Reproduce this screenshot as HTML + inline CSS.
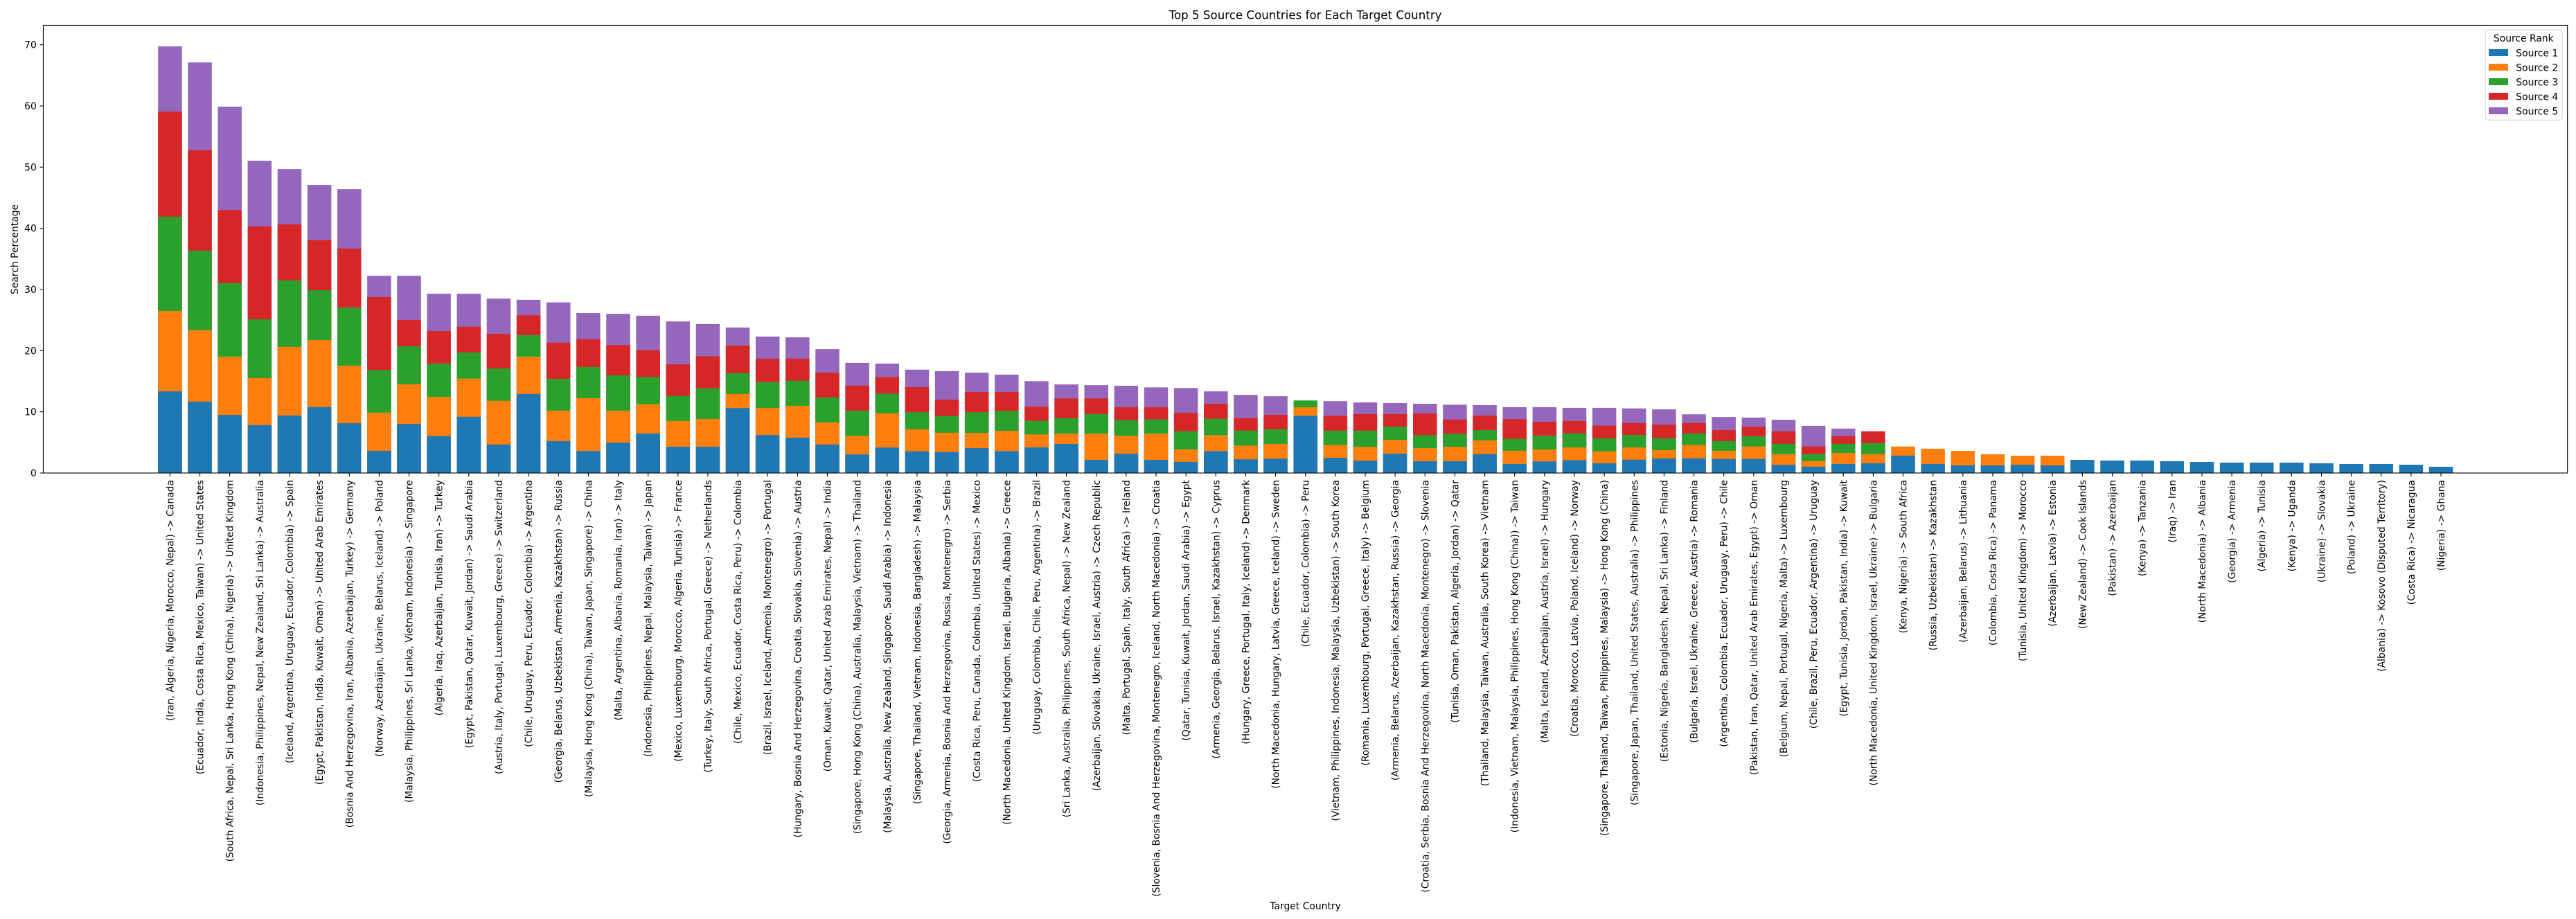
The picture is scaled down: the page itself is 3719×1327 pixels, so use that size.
<!DOCTYPE html>
<html><head><meta charset="utf-8"><style>
html,body{margin:0;padding:0;background:#fff;}
svg{display:block;}
text{font-family:"DejaVu Sans","Liberation Sans",sans-serif;fill:#000;}
</style></head><body>
<svg width="3719" height="1327" viewBox="0 0 3719 1327" xmlns="http://www.w3.org/2000/svg">
<rect width="3719" height="1327" fill="#fff"/>
<text x="1884.6" y="27.5" font-size="16.67" text-anchor="middle">Top 5 Source Countries for Each Target Country</text>
<g transform="translate(245.41,683) scale(43.14,-8.833)">
<path fill="#9467bd" d="M-.4 0h.8v69.75h-.8zM.6 0h.8v67.12h-.8zM1.6 0h.8v59.89h-.8zM2.6 0h.8v51.05h-.8zM3.6 0h.8v49.68h-.8zM4.6 0h.8v47.1h-.8zM5.6 0h.8v46.4h-.8zM6.6 0h.8v32.24h-.8zM7.6 0h.8v32.24h-.8zM8.6 0h.8v29.31h-.8zM9.6 0h.8v29.31h-.8zM10.6 0h.8v28.51h-.8zM11.6 0h.8v28.32h-.8zM12.6 0h.8v27.89h-.8zM13.6 0h.8v26.15h-.8zM14.6 0h.8v26.02h-.8zM15.6 0h.8v25.71h-.8zM16.6 0h.8v24.78h-.8zM17.6 0h.8v24.35h-.8zM18.6 0h.8v23.79h-.8zM19.6 0h.8v22.3h-.8zM20.6 0h.8v22.17h-.8zM21.6 0h.8v20.25h-.8zM22.6 0h.8v18.01h-.8zM23.6 0h.8v17.89h-.8zM24.6 0h.8v16.89h-.8zM25.6 0h.8v16.65h-.8zM26.6 0h.8v16.4h-.8zM27.6 0h.8v16.08h-.8zM28.6 0h.8v15.01h-.8zM29.6 0h.8v14.48h-.8zM30.6 0h.8v14.37h-.8zM31.6 0h.8v14.26h-.8zM32.6 0h.8v14h-.8zM33.6 0h.8v13.89h-.8zM34.6 0h.8v13.35h-.8zM35.6 0h.8v12.77h-.8zM36.6 0h.8v12.55h-.8zM38.6 0h.8v11.75h-.8zM39.6 0h.8v11.54h-.8zM40.6 0h.8v11.43h-.8zM41.6 0h.8v11.32h-.8zM42.6 0h.8v11.16h-.8zM43.6 0h.8v11.09h-.8zM44.6 0h.8v10.75h-.8zM45.6 0h.8v10.75h-.8zM46.6 0h.8v10.65h-.8zM47.6 0h.8v10.65h-.8zM48.6 0h.8v10.55h-.8zM49.6 0h.8v10.4h-.8zM50.6 0h.8v9.6h-.8zM51.6 0h.8v9.15h-.8zM52.6 0h.8v9.05h-.8zM53.6 0h.8v8.71h-.8zM54.6 0h.8v7.71h-.8zM55.6 0h.8v7.26h-.8z"/>
<path fill="#d62728" d="M-.4 0h.8v59.08h-.8zM.6 0h.8v52.76h-.8zM1.6 0h.8v43.01h-.8zM2.6 0h.8v40.33h-.8zM3.6 0h.8v40.63h-.8zM4.6 0h.8v38.06h-.8zM5.6 0h.8v36.69h-.8zM6.6 0h.8v28.76h-.8zM7.6 0h.8v25.02h-.8zM8.6 0h.8v23.2h-.8zM9.6 0h.8v23.91h-.8zM10.6 0h.8v22.73h-.8zM11.6 0h.8v25.78h-.8zM12.6 0h.8v21.3h-.8zM13.6 0h.8v21.86h-.8zM14.6 0h.8v20.93h-.8zM15.6 0h.8v20.06h-.8zM16.6 0h.8v17.76h-.8zM17.6 0h.8v19.07h-.8zM18.6 0h.8v20.81h-.8zM19.6 0h.8v18.7h-.8zM20.6 0h.8v18.7h-.8zM21.6 0h.8v16.4h-.8zM22.6 0h.8v14.29h-.8zM23.6 0h.8v15.71h-.8zM24.6 0h.8v14.04h-.8zM25.6 0h.8v11.99h-.8zM26.6 0h.8v13.25h-.8zM27.6 0h.8v13.25h-.8zM28.6 0h.8v10.84h-.8zM29.6 0h.8v12.18h-.8zM30.6 0h.8v12.18h-.8zM31.6 0h.8v10.74h-.8zM32.6 0h.8v10.74h-.8zM33.6 0h.8v9.83h-.8zM34.6 0h.8v11.32h-.8zM35.6 0h.8v8.97h-.8zM36.6 0h.8v9.51h-.8zM38.6 0h.8v9.35h-.8zM39.6 0h.8v9.62h-.8zM40.6 0h.8v9.62h-.8zM41.6 0h.8v9.72h-.8zM42.6 0h.8v8.76h-.8zM43.6 0h.8v9.4h-.8zM44.6 0h.8v8.81h-.8zM45.6 0h.8v8.36h-.8zM46.6 0h.8v8.51h-.8zM47.6 0h.8v7.76h-.8zM48.6 0h.8v8.16h-.8zM49.6 0h.8v7.91h-.8zM50.6 0h.8v8.16h-.8zM51.6 0h.8v7.01h-.8zM52.6 0h.8v7.56h-.8zM53.6 0h.8v6.82h-.8zM54.6 0h.8v4.33h-.8zM55.6 0h.8v6.02h-.8zM56.6 0h.8v6.82h-.8z"/>
<path fill="#2ca02c" d="M-.4 0h.8v41.9h-.8zM.6 0h.8v36.34h-.8zM1.6 0h.8v31.03h-.8zM2.6 0h.8v25.12h-.8zM3.6 0h.8v31.49h-.8zM4.6 0h.8v29.87h-.8zM5.6 0h.8v27.04h-.8zM6.6 0h.8v16.83h-.8zM7.6 0h.8v20.72h-.8zM8.6 0h.8v17.89h-.8zM9.6 0h.8v19.71h-.8zM10.6 0h.8v17.08h-.8zM11.6 0h.8v22.55h-.8zM12.6 0h.8v15.4h-.8zM13.6 0h.8v17.33h-.8zM14.6 0h.8v15.96h-.8zM15.6 0h.8v15.71h-.8zM16.6 0h.8v12.61h-.8zM17.6 0h.8v13.85h-.8zM18.6 0h.8v16.34h-.8zM19.6 0h.8v14.84h-.8zM20.6 0h.8v15.09h-.8zM21.6 0h.8v12.36h-.8zM22.6 0h.8v10.19h-.8zM23.6 0h.8v12.98h-.8zM24.6 0h.8v9.94h-.8zM25.6 0h.8v9.32h-.8zM26.6 0h.8v9.94h-.8zM27.6 0h.8v10.15h-.8zM28.6 0h.8v8.55h-.8zM29.6 0h.8v8.97h-.8zM30.6 0h.8v9.62h-.8zM31.6 0h.8v8.65h-.8zM32.6 0h.8v8.76h-.8zM33.6 0h.8v6.84h-.8zM34.6 0h.8v8.87h-.8zM35.6 0h.8v6.94h-.8zM36.6 0h.8v7.16h-.8zM37.6 0h.8v11.86h-.8zM38.6 0h.8v6.94h-.8zM39.6 0h.8v6.94h-.8zM40.6 0h.8v7.59h-.8zM41.6 0h.8v6.2h-.8zM42.6 0h.8v6.41h-.8zM43.6 0h.8v7.01h-.8zM44.6 0h.8v5.57h-.8zM45.6 0h.8v6.12h-.8zM46.6 0h.8v6.47h-.8zM47.6 0h.8v5.67h-.8zM48.6 0h.8v6.22h-.8zM49.6 0h.8v5.67h-.8zM50.6 0h.8v6.47h-.8zM51.6 0h.8v5.22h-.8zM52.6 0h.8v6.02h-.8zM53.6 0h.8v4.78h-.8zM54.6 0h.8v3.08h-.8zM55.6 0h.8v4.78h-.8zM56.6 0h.8v4.88h-.8z"/>
<path fill="#ff7f0e" d="M-.4 0h.8v26.48h-.8zM.6 0h.8v23.35h-.8zM1.6 0h.8v19h-.8zM2.6 0h.8v15.52h-.8zM3.6 0h.8v20.62h-.8zM4.6 0h.8v21.73h-.8zM5.6 0h.8v17.54h-.8zM6.6 0h.8v9.86h-.8zM7.6 0h.8v14.51h-.8zM8.6 0h.8v12.43h-.8zM9.6 0h.8v15.42h-.8zM10.6 0h.8v11.8h-.8zM11.6 0h.8v19.01h-.8zM12.6 0h.8v10.19h-.8zM13.6 0h.8v12.24h-.8zM14.6 0h.8v10.19h-.8zM15.6 0h.8v11.24h-.8zM16.6 0h.8v8.51h-.8zM17.6 0h.8v8.82h-.8zM18.6 0h.8v12.92h-.8zM19.6 0h.8v10.62h-.8zM20.6 0h.8v10.99h-.8zM21.6 0h.8v8.26h-.8zM22.6 0h.8v6.09h-.8zM23.6 0h.8v9.75h-.8zM24.6 0h.8v7.14h-.8zM25.6 0h.8v6.58h-.8zM26.6 0h.8v6.57h-.8zM27.6 0h.8v6.89h-.8zM28.6 0h.8v6.3h-.8zM29.6 0h.8v6.41h-.8zM30.6 0h.8v6.41h-.8zM31.6 0h.8v6.09h-.8zM32.6 0h.8v6.41h-.8zM33.6 0h.8v3.85h-.8zM34.6 0h.8v6.2h-.8zM35.6 0h.8v4.49h-.8zM36.6 0h.8v4.75h-.8zM37.6 0h.8v10.74h-.8zM38.6 0h.8v4.59h-.8zM39.6 0h.8v4.27h-.8zM40.6 0h.8v5.4h-.8zM41.6 0h.8v4.06h-.8zM42.6 0h.8v4.27h-.8zM43.6 0h.8v5.32h-.8zM44.6 0h.8v3.63h-.8zM45.6 0h.8v3.83h-.8zM46.6 0h.8v4.18h-.8zM47.6 0h.8v3.53h-.8zM48.6 0h.8v4.18h-.8zM49.6 0h.8v3.73h-.8zM50.6 0h.8v4.58h-.8zM51.6 0h.8v3.63h-.8zM52.6 0h.8v4.33h-.8zM53.6 0h.8v3.08h-.8zM54.6 0h.8v1.94h-.8zM55.6 0h.8v3.28h-.8zM56.6 0h.8v3.08h-.8zM57.6 0h.8v4.33h-.8zM58.6 0h.8v3.98h-.8zM59.6 0h.8v3.62h-.8zM60.6 0h.8v3.06h-.8zM61.6 0h.8v2.83h-.8zM62.6 0h.8v2.83h-.8z"/>
<path fill="#1f77b4" d="M-.4 0h.8v13.34h-.8zM.6 0h.8v11.67h-.8zM1.6 0h.8v9.5h-.8zM2.6 0h.8v7.83h-.8zM3.6 0h.8v9.4h-.8zM4.6 0h.8v10.77h-.8zM5.6 0h.8v8.14h-.8zM6.6 0h.8v3.64h-.8zM7.6 0h.8v8.04h-.8zM8.6 0h.8v6.01h-.8zM9.6 0h.8v9.2h-.8zM10.6 0h.8v4.66h-.8zM11.6 0h.8v12.92h-.8zM12.6 0h.8v5.22h-.8zM13.6 0h.8v3.6h-.8zM14.6 0h.8v4.97h-.8zM15.6 0h.8v6.46h-.8zM16.6 0h.8v4.29h-.8zM17.6 0h.8v4.29h-.8zM18.6 0h.8v10.62h-.8zM19.6 0h.8v6.21h-.8zM20.6 0h.8v5.78h-.8zM21.6 0h.8v4.66h-.8zM22.6 0h.8v3.04h-.8zM23.6 0h.8v4.16h-.8zM24.6 0h.8v3.54h-.8zM25.6 0h.8v3.42h-.8zM26.6 0h.8v4.06h-.8zM27.6 0h.8v3.58h-.8zM28.6 0h.8v4.17h-.8zM29.6 0h.8v4.75h-.8zM30.6 0h.8v2.14h-.8zM31.6 0h.8v3.15h-.8zM32.6 0h.8v2.14h-.8zM33.6 0h.8v1.82h-.8zM34.6 0h.8v3.58h-.8zM35.6 0h.8v2.24h-.8zM36.6 0h.8v2.35h-.8zM37.6 0h.8v9.35h-.8zM38.6 0h.8v2.46h-.8zM39.6 0h.8v2.03h-.8zM40.6 0h.8v3.15h-.8zM41.6 0h.8v1.92h-.8zM42.6 0h.8v1.92h-.8zM43.6 0h.8v3.08h-.8zM44.6 0h.8v1.49h-.8zM45.6 0h.8v1.89h-.8zM46.6 0h.8v2.09h-.8zM47.6 0h.8v1.59h-.8zM48.6 0h.8v2.19h-.8zM49.6 0h.8v2.39h-.8zM50.6 0h.8v2.39h-.8zM51.6 0h.8v2.29h-.8zM52.6 0h.8v2.29h-.8zM53.6 0h.8v1.34h-.8zM54.6 0h.8v1.04h-.8zM55.6 0h.8v1.49h-.8zM56.6 0h.8v1.59h-.8zM57.6 0h.8v2.84h-.8zM58.6 0h.8v1.49h-.8zM59.6 0h.8v1.25h-.8zM60.6 0h.8v1.25h-.8zM61.6 0h.8v1.36h-.8zM62.6 0h.8v1.25h-.8zM63.6 0h.8v2.15h-.8zM64.6 0h.8v2.04h-.8zM65.6 0h.8v2.04h-.8zM66.6 0h.8v1.92h-.8zM67.6 0h.8v1.81h-.8zM68.6 0h.8v1.7h-.8zM69.6 0h.8v1.7h-.8zM70.6 0h.8v1.7h-.8zM71.6 0h.8v1.58h-.8zM72.6 0h.8v1.47h-.8zM73.6 0h.8v1.47h-.8zM74.6 0h.8v1.36h-.8zM75.6 0h.8v1.02h-.8z"/>
<path stroke="#000" stroke-width="1.11" vector-effect="non-scaling-stroke" fill="none" d="M0 0v-.555M1 0v-.555M2 0v-.555M3 0v-.555M4 0v-.555M5 0v-.555M6 0v-.555M7 0v-.555M8 0v-.555M9 0v-.555M10 0v-.555M11 0v-.555M12 0v-.555M13 0v-.555M14 0v-.555M15 0v-.555M16 0v-.555M17 0v-.555M18 0v-.555M19 0v-.555M20 0v-.555M21 0v-.555M22 0v-.555M23 0v-.555M24 0v-.555M25 0v-.555M26 0v-.555M27 0v-.555M28 0v-.555M29 0v-.555M30 0v-.555M31 0v-.555M32 0v-.555M33 0v-.555M34 0v-.555M35 0v-.555M36 0v-.555M37 0v-.555M38 0v-.555M39 0v-.555M40 0v-.555M41 0v-.555M42 0v-.555M43 0v-.555M44 0v-.555M45 0v-.555M46 0v-.555M47 0v-.555M48 0v-.555M49 0v-.555M50 0v-.555M51 0v-.555M52 0v-.555M53 0v-.555M54 0v-.555M55 0v-.555M56 0v-.555M57 0v-.555M58 0v-.555M59 0v-.555M60 0v-.555M61 0v-.555M62 0v-.555M63 0v-.555M64 0v-.555M65 0v-.555M66 0v-.555M67 0v-.555M68 0v-.555M69 0v-.555M70 0v-.555M71 0v-.555M72 0v-.555M73 0v-.555M74 0v-.555M75 0v-.555M76 0v-.555"/>
</g>
<rect x="62.5" y="36.5" width="3644.2" height="646.5" fill="none" stroke="#000" stroke-width="1.11"/>
<path stroke="#000" stroke-width="1.11" d="M57.6 683h4.9M57.6 594.67h4.9M57.6 506.34h4.9M57.6 418h4.9M57.6 329.68h4.9M57.6 241.35h4.9M57.6 153.02h4.9M57.6 64.69h4.9"/>
<g font-size="13.89" text-anchor="end">
<text x="52.8" y="683" dy="0.36em">0</text>
<text x="52.8" y="594.67" dy="0.36em">10</text>
<text x="52.8" y="506.34" dy="0.36em">20</text>
<text x="52.8" y="418" dy="0.36em">30</text>
<text x="52.8" y="329.68" dy="0.36em">40</text>
<text x="52.8" y="241.35" dy="0.36em">50</text>
<text x="52.8" y="153.02" dy="0.36em">60</text>
<text x="52.8" y="64.69" dy="0.36em">70</text>
</g>
<text transform="translate(21,360) rotate(-90)" font-size="13.89" text-anchor="middle" dy="0.36em">Search Percentage</text>
<text x="1884.6" y="1313" font-size="13.89" text-anchor="middle">Target Country</text>
<g font-size="13.89" text-anchor="end">
<text transform="translate(245.41,693) rotate(-90)" dy="0.36em">(Iran, Algeria, Nigeria, Morocco, Nepal) -&gt; Canada</text>
<text transform="translate(288.55,693) rotate(-90)" dy="0.36em">(Ecuador, India, Costa Rica, Mexico, Taiwan) -&gt; United States</text>
<text transform="translate(331.69,693) rotate(-90)" dy="0.36em">(South Africa, Nepal, Sri Lanka, Hong Kong (China), Nigeria) -&gt; United Kingdom</text>
<text transform="translate(374.83,693) rotate(-90)" dy="0.36em">(Indonesia, Philippines, Nepal, New Zealand, Sri Lanka) -&gt; Australia</text>
<text transform="translate(417.97,693) rotate(-90)" dy="0.36em">(Iceland, Argentina, Uruguay, Ecuador, Colombia) -&gt; Spain</text>
<text transform="translate(461.11,693) rotate(-90)" dy="0.36em">(Egypt, Pakistan, India, Kuwait, Oman) -&gt; United Arab Emirates</text>
<text transform="translate(504.25,693) rotate(-90)" dy="0.36em">(Bosnia And Herzegovina, Iran, Albania, Azerbaijan, Turkey) -&gt; Germany</text>
<text transform="translate(547.39,693) rotate(-90)" dy="0.36em">(Norway, Azerbaijan, Ukraine, Belarus, Iceland) -&gt; Poland</text>
<text transform="translate(590.53,693) rotate(-90)" dy="0.36em">(Malaysia, Philippines, Sri Lanka, Vietnam, Indonesia) -&gt; Singapore</text>
<text transform="translate(633.67,693) rotate(-90)" dy="0.36em">(Algeria, Iraq, Azerbaijan, Tunisia, Iran) -&gt; Turkey</text>
<text transform="translate(676.81,693) rotate(-90)" dy="0.36em">(Egypt, Pakistan, Qatar, Kuwait, Jordan) -&gt; Saudi Arabia</text>
<text transform="translate(719.95,693) rotate(-90)" dy="0.36em">(Austria, Italy, Portugal, Luxembourg, Greece) -&gt; Switzerland</text>
<text transform="translate(763.09,693) rotate(-90)" dy="0.36em">(Chile, Uruguay, Peru, Ecuador, Colombia) -&gt; Argentina</text>
<text transform="translate(806.23,693) rotate(-90)" dy="0.36em">(Georgia, Belarus, Uzbekistan, Armenia, Kazakhstan) -&gt; Russia</text>
<text transform="translate(849.37,693) rotate(-90)" dy="0.36em">(Malaysia, Hong Kong (China), Taiwan, Japan, Singapore) -&gt; China</text>
<text transform="translate(892.51,693) rotate(-90)" dy="0.36em">(Malta, Argentina, Albania, Romania, Iran) -&gt; Italy</text>
<text transform="translate(935.65,693) rotate(-90)" dy="0.36em">(Indonesia, Philippines, Nepal, Malaysia, Taiwan) -&gt; Japan</text>
<text transform="translate(978.79,693) rotate(-90)" dy="0.36em">(Mexico, Luxembourg, Morocco, Algeria, Tunisia) -&gt; France</text>
<text transform="translate(1021.93,693) rotate(-90)" dy="0.36em">(Turkey, Italy, South Africa, Portugal, Greece) -&gt; Netherlands</text>
<text transform="translate(1065.07,693) rotate(-90)" dy="0.36em">(Chile, Mexico, Ecuador, Costa Rica, Peru) -&gt; Colombia</text>
<text transform="translate(1108.21,693) rotate(-90)" dy="0.36em">(Brazil, Israel, Iceland, Armenia, Montenegro) -&gt; Portugal</text>
<text transform="translate(1151.35,693) rotate(-90)" dy="0.36em">(Hungary, Bosnia And Herzegovina, Croatia, Slovakia, Slovenia) -&gt; Austria</text>
<text transform="translate(1194.49,693) rotate(-90)" dy="0.36em">(Oman, Kuwait, Qatar, United Arab Emirates, Nepal) -&gt; India</text>
<text transform="translate(1237.63,693) rotate(-90)" dy="0.36em">(Singapore, Hong Kong (China), Australia, Malaysia, Vietnam) -&gt; Thailand</text>
<text transform="translate(1280.77,693) rotate(-90)" dy="0.36em">(Malaysia, Australia, New Zealand, Singapore, Saudi Arabia) -&gt; Indonesia</text>
<text transform="translate(1323.91,693) rotate(-90)" dy="0.36em">(Singapore, Thailand, Vietnam, Indonesia, Bangladesh) -&gt; Malaysia</text>
<text transform="translate(1367.05,693) rotate(-90)" dy="0.36em">(Georgia, Armenia, Bosnia And Herzegovina, Russia, Montenegro) -&gt; Serbia</text>
<text transform="translate(1410.19,693) rotate(-90)" dy="0.36em">(Costa Rica, Peru, Canada, Colombia, United States) -&gt; Mexico</text>
<text transform="translate(1453.33,693) rotate(-90)" dy="0.36em">(North Macedonia, United Kingdom, Israel, Bulgaria, Albania) -&gt; Greece</text>
<text transform="translate(1496.47,693) rotate(-90)" dy="0.36em">(Uruguay, Colombia, Chile, Peru, Argentina) -&gt; Brazil</text>
<text transform="translate(1539.61,693) rotate(-90)" dy="0.36em">(Sri Lanka, Australia, Philippines, South Africa, Nepal) -&gt; New Zealand</text>
<text transform="translate(1582.75,693) rotate(-90)" dy="0.36em">(Azerbaijan, Slovakia, Ukraine, Israel, Austria) -&gt; Czech Republic</text>
<text transform="translate(1625.89,693) rotate(-90)" dy="0.36em">(Malta, Portugal, Spain, Italy, South Africa) -&gt; Ireland</text>
<text transform="translate(1669.03,693) rotate(-90)" dy="0.36em">(Slovenia, Bosnia And Herzegovina, Montenegro, Iceland, North Macedonia) -&gt; Croatia</text>
<text transform="translate(1712.17,693) rotate(-90)" dy="0.36em">(Qatar, Tunisia, Kuwait, Jordan, Saudi Arabia) -&gt; Egypt</text>
<text transform="translate(1755.31,693) rotate(-90)" dy="0.36em">(Armenia, Georgia, Belarus, Israel, Kazakhstan) -&gt; Cyprus</text>
<text transform="translate(1798.45,693) rotate(-90)" dy="0.36em">(Hungary, Greece, Portugal, Italy, Iceland) -&gt; Denmark</text>
<text transform="translate(1841.59,693) rotate(-90)" dy="0.36em">(North Macedonia, Hungary, Latvia, Greece, Iceland) -&gt; Sweden</text>
<text transform="translate(1884.73,693) rotate(-90)" dy="0.36em">(Chile, Ecuador, Colombia) -&gt; Peru</text>
<text transform="translate(1927.87,693) rotate(-90)" dy="0.36em">(Vietnam, Philippines, Indonesia, Malaysia, Uzbekistan) -&gt; South Korea</text>
<text transform="translate(1971.01,693) rotate(-90)" dy="0.36em">(Romania, Luxembourg, Portugal, Greece, Italy) -&gt; Belgium</text>
<text transform="translate(2014.15,693) rotate(-90)" dy="0.36em">(Armenia, Belarus, Azerbaijan, Kazakhstan, Russia) -&gt; Georgia</text>
<text transform="translate(2057.29,693) rotate(-90)" dy="0.36em">(Croatia, Serbia, Bosnia And Herzegovina, North Macedonia, Montenegro) -&gt; Slovenia</text>
<text transform="translate(2100.43,693) rotate(-90)" dy="0.36em">(Tunisia, Oman, Pakistan, Algeria, Jordan) -&gt; Qatar</text>
<text transform="translate(2143.57,693) rotate(-90)" dy="0.36em">(Thailand, Malaysia, Taiwan, Australia, South Korea) -&gt; Vietnam</text>
<text transform="translate(2186.71,693) rotate(-90)" dy="0.36em">(Indonesia, Vietnam, Malaysia, Philippines, Hong Kong (China)) -&gt; Taiwan</text>
<text transform="translate(2229.85,693) rotate(-90)" dy="0.36em">(Malta, Iceland, Azerbaijan, Austria, Israel) -&gt; Hungary</text>
<text transform="translate(2272.99,693) rotate(-90)" dy="0.36em">(Croatia, Morocco, Latvia, Poland, Iceland) -&gt; Norway</text>
<text transform="translate(2316.13,693) rotate(-90)" dy="0.36em">(Singapore, Thailand, Taiwan, Philippines, Malaysia) -&gt; Hong Kong (China)</text>
<text transform="translate(2359.27,693) rotate(-90)" dy="0.36em">(Singapore, Japan, Thailand, United States, Australia) -&gt; Philippines</text>
<text transform="translate(2402.41,693) rotate(-90)" dy="0.36em">(Estonia, Nigeria, Bangladesh, Nepal, Sri Lanka) -&gt; Finland</text>
<text transform="translate(2445.55,693) rotate(-90)" dy="0.36em">(Bulgaria, Israel, Ukraine, Greece, Austria) -&gt; Romania</text>
<text transform="translate(2488.69,693) rotate(-90)" dy="0.36em">(Argentina, Colombia, Ecuador, Uruguay, Peru) -&gt; Chile</text>
<text transform="translate(2531.83,693) rotate(-90)" dy="0.36em">(Pakistan, Iran, Qatar, United Arab Emirates, Egypt) -&gt; Oman</text>
<text transform="translate(2574.97,693) rotate(-90)" dy="0.36em">(Belgium, Nepal, Portugal, Nigeria, Malta) -&gt; Luxembourg</text>
<text transform="translate(2618.11,693) rotate(-90)" dy="0.36em">(Chile, Brazil, Peru, Ecuador, Argentina) -&gt; Uruguay</text>
<text transform="translate(2661.25,693) rotate(-90)" dy="0.36em">(Egypt, Tunisia, Jordan, Pakistan, India) -&gt; Kuwait</text>
<text transform="translate(2704.39,693) rotate(-90)" dy="0.36em">(North Macedonia, United Kingdom, Israel, Ukraine) -&gt; Bulgaria</text>
<text transform="translate(2747.53,693) rotate(-90)" dy="0.36em">(Kenya, Nigeria) -&gt; South Africa</text>
<text transform="translate(2790.67,693) rotate(-90)" dy="0.36em">(Russia, Uzbekistan) -&gt; Kazakhstan</text>
<text transform="translate(2833.81,693) rotate(-90)" dy="0.36em">(Azerbaijan, Belarus) -&gt; Lithuania</text>
<text transform="translate(2876.95,693) rotate(-90)" dy="0.36em">(Colombia, Costa Rica) -&gt; Panama</text>
<text transform="translate(2920.09,693) rotate(-90)" dy="0.36em">(Tunisia, United Kingdom) -&gt; Morocco</text>
<text transform="translate(2963.23,693) rotate(-90)" dy="0.36em">(Azerbaijan, Latvia) -&gt; Estonia</text>
<text transform="translate(3006.37,693) rotate(-90)" dy="0.36em">(New Zealand) -&gt; Cook Islands</text>
<text transform="translate(3049.51,693) rotate(-90)" dy="0.36em">(Pakistan) -&gt; Azerbaijan</text>
<text transform="translate(3092.65,693) rotate(-90)" dy="0.36em">(Kenya) -&gt; Tanzania</text>
<text transform="translate(3135.79,693) rotate(-90)" dy="0.36em">(Iraq) -&gt; Iran</text>
<text transform="translate(3178.93,693) rotate(-90)" dy="0.36em">(North Macedonia) -&gt; Albania</text>
<text transform="translate(3222.07,693) rotate(-90)" dy="0.36em">(Georgia) -&gt; Armenia</text>
<text transform="translate(3265.21,693) rotate(-90)" dy="0.36em">(Algeria) -&gt; Tunisia</text>
<text transform="translate(3308.35,693) rotate(-90)" dy="0.36em">(Kenya) -&gt; Uganda</text>
<text transform="translate(3351.49,693) rotate(-90)" dy="0.36em">(Ukraine) -&gt; Slovakia</text>
<text transform="translate(3394.63,693) rotate(-90)" dy="0.36em">(Poland) -&gt; Ukraine</text>
<text transform="translate(3437.77,693) rotate(-90)" dy="0.36em">(Albania) -&gt; Kosovo (Disputed Territory)</text>
<text transform="translate(3480.91,693) rotate(-90)" dy="0.36em">(Costa Rica) -&gt; Nicaragua</text>
<text transform="translate(3524.05,693) rotate(-90)" dy="0.36em">(Nigeria) -&gt; Ghana</text>
</g>
<rect x="3588.3" y="43.3" width="110.7" height="130" rx="3" ry="3" fill="#fff" fill-opacity="0.8" stroke="#d5d5d5" stroke-width="1.11"/>
<text x="3643.3" y="60" font-size="13.89" text-anchor="middle">Source Rank</text>
<rect x="3593" y="71" width="28" height="10" fill="#1f77b4"/>
<rect x="3593" y="92" width="28" height="10" fill="#ff7f0e"/>
<rect x="3593" y="113" width="28" height="10" fill="#2ca02c"/>
<rect x="3593" y="134" width="28" height="10" fill="#d62728"/>
<rect x="3593" y="155" width="28" height="10" fill="#9467bd"/>
<g font-size="13.89">
<text x="3632.3" y="81.5">Source 1</text>
<text x="3632.3" y="102.5">Source 2</text>
<text x="3632.3" y="123.5">Source 3</text>
<text x="3632.3" y="144.5">Source 4</text>
<text x="3632.3" y="165.5">Source 5</text>
</g>
</svg>
</body></html>
